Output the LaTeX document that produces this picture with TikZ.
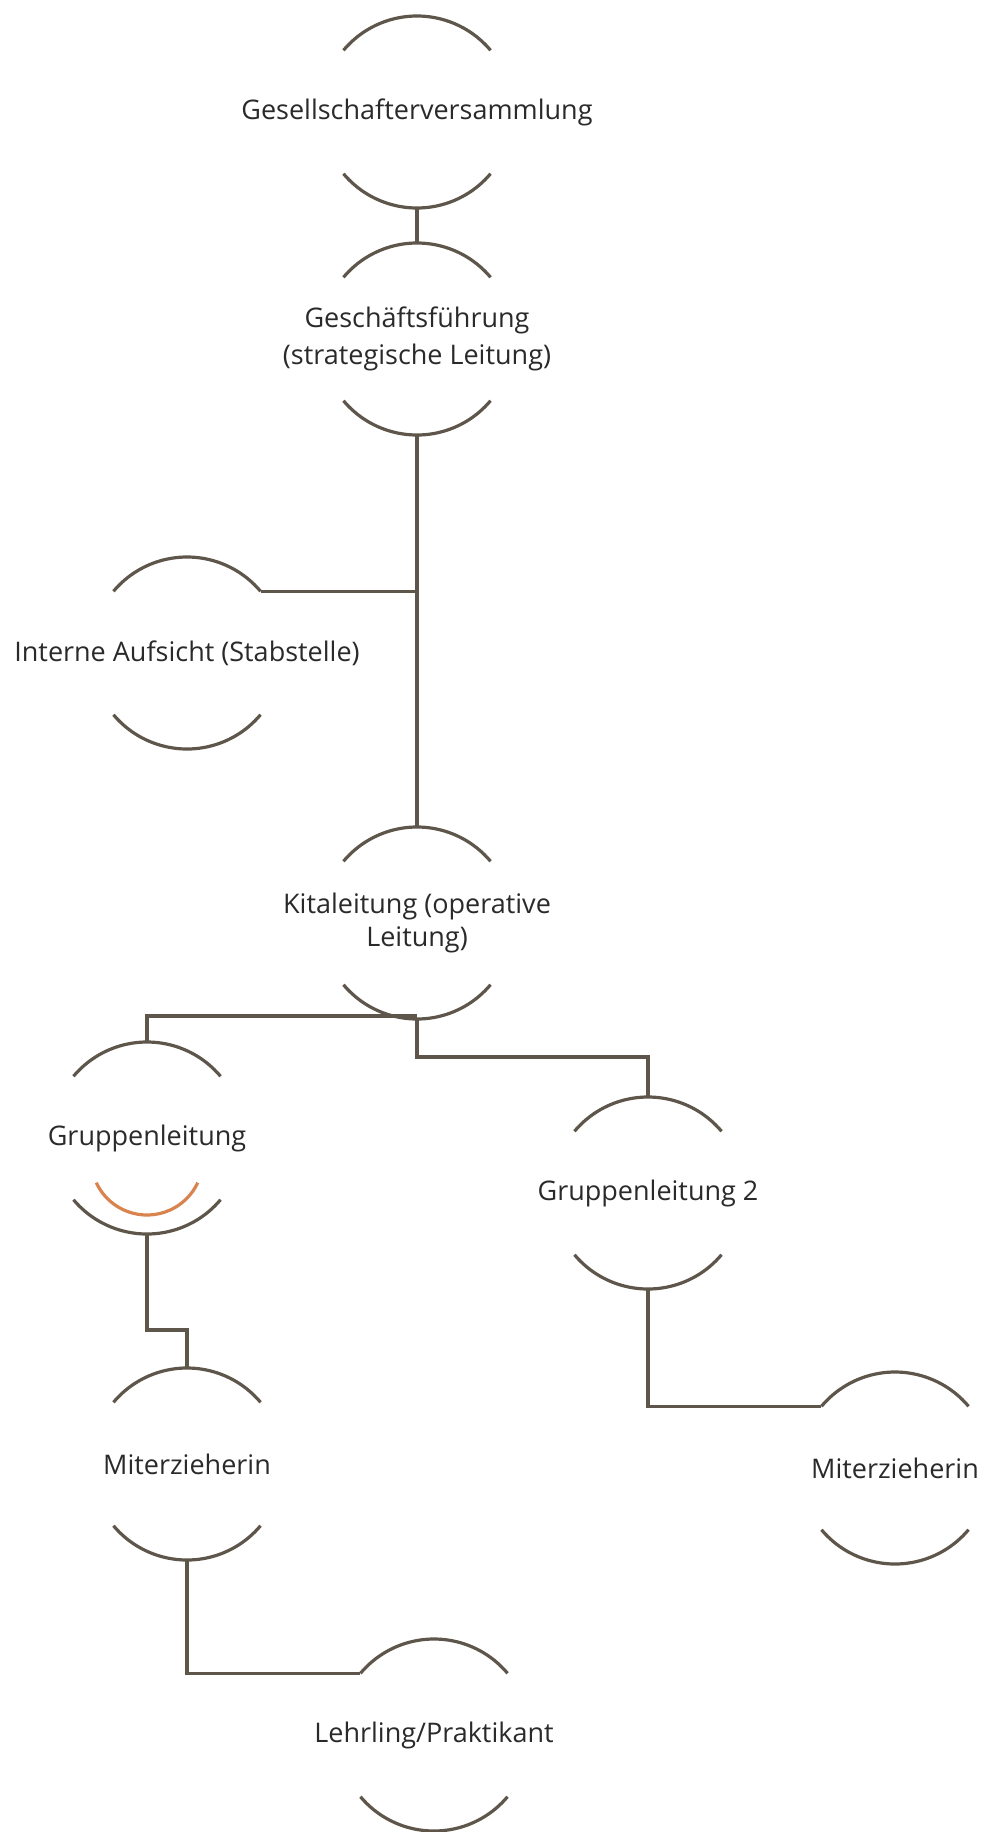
\documentclass[tikz,border=0pt]{standalone}
\usepackage{fontspec}
\setmainfont{Open Sans}
\usetikzlibrary{calc}
\definecolor{linec}{HTML}{5E554B}
\definecolor{orangec}{HTML}{D9844F}
\definecolor{textc}{HTML}{2A2A2A}
\tikzset{
  arcline/.style={draw=linec, line width=3.2pt},
  conn/.style={draw=linec, line width=3.2pt},
  hilite/.style={draw=orangec, line width=3.2pt},
  lbl/.style={align=center, text=textc, inner sep=0pt, font=\fontsize{27}{37}\selectfont},
}
\newcommand{\orgnode}[4]{%
  \node[lbl] (#1) at (#2,#3) {#4};
  \coordinate (#1-t) at ($(#1.center)+(0,96)$);
  \coordinate (#1-b) at ($(#1.center)+(0,-96)$);
  \coordinate (#1-tl) at ($(#1.center)+(140:96)$);
  \coordinate (#1-tr) at ($(#1.center)+(40:96)$);
  \draw[arcline] (#1-tr) arc[start angle=40,end angle=140,radius=96];
  \draw[arcline] ($(#1.center)+(220:96)$) arc[start angle=220,end angle=320,radius=96];
}
\begin{document}
\begin{tikzpicture}[x=1pt,y=1pt]
\useasboundingbox (0,0) rectangle (987,-1832);
\orgnode{g1}{417}{-112}{Gesellschafterversammlung}
\orgnode{g2}{417}{-339}{Geschäftsführung\\(strategische Leitung)}
\orgnode{ia}{187}{-653}{Interne Aufsicht (Stabstelle)}
\orgnode{kl}{417}{-923}{Kitaleitung (operative\\[-4pt]Leitung)}
\orgnode{gl1}{147}{-1138}{Gruppenleitung}
\orgnode{gl2}{648}{-1193}{Gruppenleitung 2}
\orgnode{m1}{187}{-1464}{Miterzieherin}
\orgnode{m2}{895}{-1468}{Miterzieherin}
\orgnode{lp}{434}{-1735}{Lehrling/Praktikant}
% orange highlight arc inside Gruppenleitung
\draw[hilite] ($(gl1.center)+(0,-21)+(205:56)$) arc[start angle=205,end angle=335,radius=56];
% connectors
\draw[conn] (g1-b) -- (g2-t);
\draw[conn] (g2-b) -- (kl-t);
\draw[conn] (ia-tr) -- (ia-tr -| g2-b);
\draw[conn] (gl1-t) |- ($(kl-b)+(0,3)$);
\draw[conn] (kl-b) -- ++(0,-38) -| (gl2-t);
\draw[conn] (gl1-b) -- ++(0,-96) -| (m1-t);
\draw[conn] (gl2-b) |- (m2-tl);
\draw[conn] (m1-b) |- (lp-tl);
\end{tikzpicture}
\end{document}
